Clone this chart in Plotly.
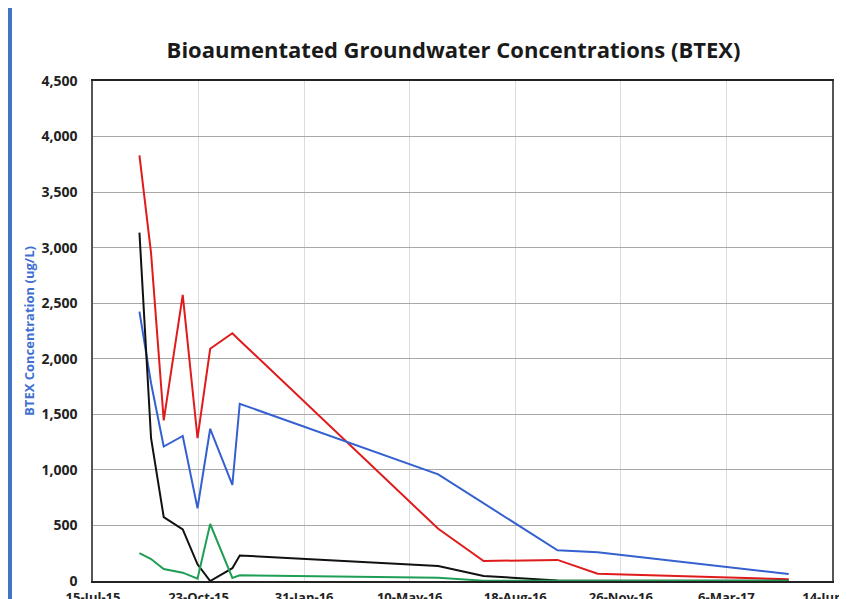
import plotly.graph_objects as go

dates = ["2015-08-28", "2015-09-08", "2015-09-20", "2015-10-08", "2015-10-22",
         "2015-11-03", "2015-11-24", "2015-12-01", "2016-06-06", "2016-07-19",
         "2016-09-27", "2016-11-04", "2017-05-04"]

red_vals = [3830, 2950, 1445, 2575, 1285, 2090, 2230, 2165, 470, 180, 190, 65, 15]
blue_vals = [2425, 1780, 1210, 1305, 655, 1370, 865, 1595, 960, 700, 276, 258, 63]
black_vals = [3135, 1285, 575, 465, 150, 0, 115, 230, 135, 45, 5, 3, 3]
green_vals = [250, 198, 108, 75, 21, 513, 27, 51, 30, 3, 2, 2, 2]

series = [
    ("Red", red_vals, "#e01b1b"),
    ("Blue", blue_vals, "#3560d0"),
    ("Black", black_vals, "#111111"),
    ("Green", green_vals, "#1f9e55"),
]

x_ticks = ["2015-07-15", "2015-10-23", "2016-01-31", "2016-05-10",
           "2016-08-18", "2016-11-26", "2017-03-06", "2017-06-14"]
x_tick_labels = ["15-Jul-15", "23-Oct-15", "31-Jan-16", "10-May-16",
                 "18-Aug-16", "26-Nov-16", "6-Mar-17", "14-Jun-17"]

fig = go.Figure()
for name, vals, color in series:
    fig.add_trace(go.Scatter(x=dates, y=vals, mode="lines", name=name,
                             line=dict(color=color, width=2), showlegend=False))

font_family = "'Open Sans', Arial, sans-serif"

# page body has an 8px default margin, so the figure is sized to fill the rest
W, H = 839, 591
L, R, T, B = 85, 15, 73, 18
pw = W - L - R

fig.update_layout(
    width=W, height=H,
    margin=dict(l=L, r=R, t=T, b=B, autoexpand=False),
    paper_bgcolor="white", plot_bgcolor="white",
    title=dict(text="Bioaumentated Groundwater Concentrations (BTEX)",
               x=0.531, xanchor="center", y=1 - 42 / H, yanchor="middle",
               font=dict(family=font_family, size=22, color="#1a1a1a", weight=700)),
    font=dict(family=font_family),
    xaxis=dict(
        type="date",
        range=["2015-07-15", "2017-06-14"],
        tickvals=x_ticks, ticktext=x_tick_labels,
        showgrid=True, gridcolor="#dcdcdc", gridwidth=1,
        showline=True, linecolor="#222222", linewidth=1.5, mirror=True,
        ticks="", ticklabelstandoff=4, ticklabeloverflow="allow",
        automargin=False,
        tickfont=dict(family=font_family, size=13, color="#222222", weight=700),
        zeroline=False,
    ),
    yaxis=dict(
        range=[0, 4500], dtick=500, tick0=0, tickformat=",",
        showgrid=True, gridcolor="#a8a8a8", gridwidth=1,
        showline=True, linecolor="#555555", linewidth=1.5, mirror=True,
        ticks="", ticklabelstandoff=11, automargin=False,
        tickfont=dict(family=font_family, size=14, color="#222222", weight=700),
        title=dict(text="BTEX Concentration (ug/L)", standoff=4,
                   font=dict(family=font_family, size=13, color="#3f6fd0", weight=700)),
        zeroline=False,
    ),
    shapes=[dict(type="rect", xref="paper", yref="paper",
                 x0=(-1 - L) / pw, x1=(4 - L) / pw, y0=-0.2, y1=1.2,
                 fillcolor="#4472c4", line=dict(width=0), layer="above")],
)

fig.write_html("out.html")
